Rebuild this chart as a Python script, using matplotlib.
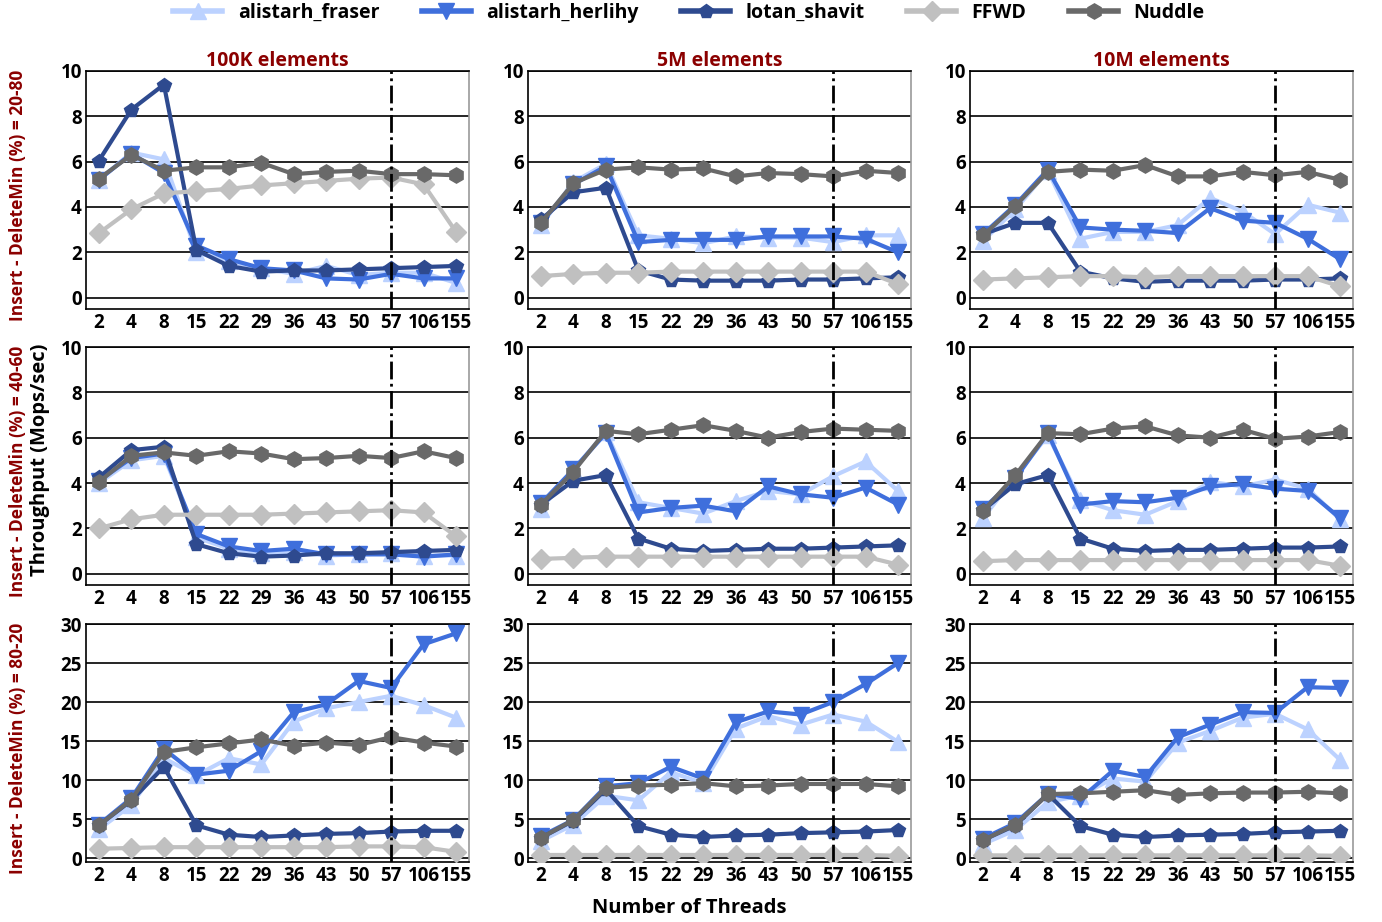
import numpy as np
import matplotlib
matplotlib.use("Agg")
import matplotlib.pyplot as plt
from matplotlib.lines import Line2D

plt.rcParams['font.family'] = ['Open Sans', 'DejaVu Sans']
plt.rcParams['font.weight'] = 'bold'

threads = ['2', '4', '8', '15', '22', '29', '36', '43', '50', '57', '106', '155']
sizes = ['100K elements', '5M elements', '10M elements']
mixes = ['20-80', '40-60', '80-20']
names = ['alistarh_fraser', 'alistarh_herlihy', 'lotan_shavit', 'FFWD', 'Nuddle']

# row 1 : insert-deletemin 20-80
fraser_20 = [
    [5.2, 6.4, 6.1, 2.0, 1.6, 1.3, 1.05, 1.4, 1.0, 1.1, 1.1, 0.65],
    [3.2, 5.1, 5.9, 2.75, 2.6, 2.4, 2.7, 2.65, 2.65, 2.45, 2.75, 2.75],
    [2.5, 3.9, 5.6, 2.6, 2.9, 2.9, 3.2, 4.4, 3.8, 2.8, 4.1, 3.75],
]
herlihy_20 = [
    [5.2, 6.35, 5.5, 2.3, 1.7, 1.3, 1.2, 0.85, 0.8, 1.05, 0.85, 0.85],
    [3.3, 5.0, 5.8, 2.45, 2.55, 2.55, 2.55, 2.7, 2.7, 2.7, 2.6, 2.0],
    [2.8, 4.1, 5.65, 3.1, 3.0, 2.95, 2.85, 3.95, 3.4, 3.3, 2.6, 1.7],
]
lotan_20 = [
    [6.05, 8.3, 9.4, 2.1, 1.4, 1.15, 1.2, 1.2, 1.25, 1.3, 1.35, 1.4],
    [3.45, 4.65, 4.85, 1.2, 0.8, 0.75, 0.75, 0.75, 0.8, 0.8, 0.85, 0.9],
    [2.8, 3.3, 3.3, 1.15, 0.85, 0.7, 0.75, 0.75, 0.75, 0.8, 0.8, 0.85],
]
ffwd_20 = [
    [2.85, 3.9, 4.6, 4.7, 4.8, 4.95, 5.05, 5.15, 5.25, 5.3, 5.0, 2.9],
    [0.95, 1.05, 1.1, 1.1, 1.15, 1.15, 1.15, 1.15, 1.15, 1.15, 1.15, 0.6],
    [0.8, 0.85, 0.9, 0.95, 0.95, 0.9, 0.95, 0.95, 0.95, 0.95, 0.95, 0.5],
]
nuddle_20 = [
    [5.25, 6.3, 5.6, 5.75, 5.75, 5.95, 5.45, 5.55, 5.6, 5.45, 5.45, 5.4],
    [3.3, 5.05, 5.65, 5.75, 5.65, 5.7, 5.35, 5.5, 5.45, 5.35, 5.6, 5.5],
    [2.75, 4.05, 5.55, 5.65, 5.6, 5.85, 5.35, 5.35, 5.55, 5.4, 5.55, 5.2],
]

# row 2 : 40-60
fraser_40 = [
    [4.0, 5.0, 5.2, 1.6, 1.1, 0.9, 0.95, 0.8, 0.85, 0.9, 0.8, 0.8],
    [2.85, 4.6, 6.25, 3.15, 2.9, 2.65, 3.2, 3.65, 3.5, 4.3, 4.95, 3.65],
    [2.45, 4.3, 6.1, 3.25, 2.8, 2.6, 3.2, 4.05, 3.85, 4.15, 3.75, 2.4],
]
herlihy_40 = [
    [4.1, 5.1, 5.3, 1.75, 1.2, 1.0, 1.1, 0.85, 0.85, 0.85, 0.75, 0.85],
    [3.1, 4.6, 6.2, 2.7, 2.9, 3.0, 2.75, 3.85, 3.5, 3.35, 3.8, 3.05],
    [2.85, 4.2, 6.2, 3.05, 3.2, 3.15, 3.35, 3.85, 3.95, 3.75, 3.65, 2.45],
]
lotan_40 = [
    [4.25, 5.45, 5.6, 1.3, 0.9, 0.75, 0.8, 0.9, 0.9, 0.95, 1.0, 1.05],
    [3.05, 4.1, 4.35, 1.55, 1.1, 1.0, 1.05, 1.1, 1.1, 1.15, 1.2, 1.25],
    [2.8, 3.95, 4.35, 1.55, 1.1, 1.0, 1.05, 1.05, 1.1, 1.15, 1.15, 1.2],
]
ffwd_40 = [
    [2.0, 2.4, 2.6, 2.6, 2.6, 2.6, 2.65, 2.7, 2.75, 2.8, 2.7, 1.65],
    [0.65, 0.7, 0.75, 0.75, 0.75, 0.75, 0.75, 0.75, 0.75, 0.75, 0.75, 0.4],
    [0.55, 0.6, 0.6, 0.6, 0.6, 0.6, 0.6, 0.6, 0.6, 0.6, 0.6, 0.35],
]
nuddle_40 = [
    [4.05, 5.2, 5.35, 5.2, 5.4, 5.3, 5.05, 5.1, 5.2, 5.1, 5.4, 5.1],
    [3.05, 4.5, 6.3, 6.15, 6.35, 6.55, 6.3, 6.0, 6.25, 6.4, 6.35, 6.3],
    [2.75, 4.35, 6.2, 6.15, 6.4, 6.5, 6.1, 6.0, 6.35, 5.95, 6.05, 6.25],
]

# row 3 : 80-20
fraser_80 = [
    [3.7, 6.8, 12.8, 10.6, 12.8, 12.0, 17.5, 19.2, 20.0, 20.8, 19.6, 18.0],
    [2.2, 4.3, 8.0, 7.4, 11.0, 9.6, 16.6, 18.2, 17.1, 18.4, 17.5, 14.9],
    [1.8, 3.6, 7.2, 8.0, 10.2, 9.8, 14.8, 16.3, 18.0, 18.5, 16.5, 12.6],
]
herlihy_80 = [
    [4.3, 7.7, 14.0, 10.7, 11.2, 13.7, 18.7, 19.7, 22.7, 21.8, 27.4, 28.8],
    [2.8, 4.9, 9.2, 9.6, 11.7, 10.2, 17.4, 18.8, 18.4, 20.0, 22.3, 25.0],
    [2.5, 4.5, 8.2, 7.6, 11.2, 10.4, 15.5, 17.1, 18.7, 18.6, 21.9, 21.8],
]
lotan_80 = [
    [4.2, 7.4, 11.7, 4.2, 3.0, 2.7, 2.9, 3.1, 3.2, 3.4, 3.5, 3.5],
    [2.6, 4.8, 8.8, 4.1, 3.0, 2.7, 2.9, 3.0, 3.2, 3.3, 3.4, 3.6],
    [2.3, 4.2, 8.2, 4.1, 3.0, 2.7, 2.9, 3.0, 3.1, 3.3, 3.4, 3.5],
]
ffwd_80 = [
    [1.2, 1.3, 1.4, 1.4, 1.4, 1.4, 1.4, 1.4, 1.5, 1.5, 1.4, 0.8],
    [0.4, 0.4, 0.4, 0.4, 0.4, 0.4, 0.4, 0.4, 0.4, 0.4, 0.4, 0.3],
    [0.35, 0.35, 0.35, 0.35, 0.35, 0.35, 0.35, 0.35, 0.35, 0.35, 0.35, 0.3],
]
nuddle_80 = [
    [4.2, 7.5, 13.6, 14.2, 14.7, 15.2, 14.4, 14.8, 14.5, 15.5, 14.8, 14.3],
    [2.6, 4.9, 9.0, 9.3, 9.4, 9.6, 9.2, 9.3, 9.5, 9.5, 9.5, 9.2],
    [2.3, 4.3, 8.2, 8.3, 8.5, 8.7, 8.1, 8.3, 8.4, 8.4, 8.5, 8.3],
]

data = [
    [fraser_20, herlihy_20, lotan_20, ffwd_20, nuddle_20],
    [fraser_40, herlihy_40, lotan_40, ffwd_40, nuddle_40],
    [fraser_80, herlihy_80, lotan_80, ffwd_80, nuddle_80],
]
ymax = [10, 10, 30]

colors = ['#bcd2ff', '#3f6fdc', '#2e4a8f', '#c0c0c0', '#696969']
markers = ['^', 'v', 'p', 'D', 'h']
msizes = [11, 11, 10, 10, 11]
darkred = '#8b0000'

fig = plt.figure(figsize=(13.82, 9.22), dpi=100)
W, H = 1382.0, 922.0
lefts = [86, 528, 970]
tops = [71, 347, 624]
aw, ah = 383, 238

x = np.arange(len(threads))
for r in range(3):
    for c in range(3):
        ax = fig.add_axes([lefts[c] / W, 1 - (tops[r] + ah) / H, aw / W, ah / H])
        for k in range(5):
            ax.plot(x, data[r][k][c], color=colors[k], marker=markers[k],
                    ms=msizes[k], lw=3, zorder=3 + k)
        ax.axvline(9, color='black', ls='-.', lw=2, zorder=10)
        ax.set_xlim(-0.4, 11.4)
        ax.set_ylim(-0.5, ymax[r])
        ax.set_yticks(np.arange(0, ymax[r] + 1, 2 if ymax[r] == 10 else 5))
        ax.set_xticks(x)
        ax.set_xticklabels(threads)
        ax.yaxis.grid(True, color='black', lw=1.2)
        ax.set_axisbelow(True)
        ax.tick_params(length=0, labelsize=13.5, pad=3)
        for lab in ax.get_xticklabels() + ax.get_yticklabels():
            lab.set_fontweight('bold')
        for s in ax.spines.values():
            s.set_linewidth(1.2)
        ax.spines['right'].set_color('#999999')
        if r == 0:
            ax.set_title(sizes[c], color=darkred, fontsize=14, fontweight='bold', pad=1)
        if c == 0:
            fig.text(18 / W, 1 - (tops[r] + ah / 2 + 5) / H,
                     'Insert - DeleteMin (%) = ' + mixes[r], color=darkred,
                     rotation=90, ha='center', va='center', fontsize=12.5, fontweight='bold')

fig.text(40 / W, 1 - 460 / H, 'Throughput (Mops/sec)', rotation=90,
         ha='center', va='center', fontsize=14.5, fontweight='bold')
fig.text(689 / W, 1 - 908 / H, 'Number of Threads', ha='center', va='center',
         fontsize=14.5, fontweight='bold')

handles = [Line2D([], [], color=colors[k], marker=markers[k], ms=msizes[k], lw=4)
           for k in range(5)]
fig.legend(handles, names, loc='center', bbox_to_anchor=(689 / W, 1 - 13 / H),
           ncol=5, frameon=False, handlelength=2.5, columnspacing=2.2,
           prop={'weight': 'bold', 'size': 14})

fig.savefig('out.png', dpi=100)
